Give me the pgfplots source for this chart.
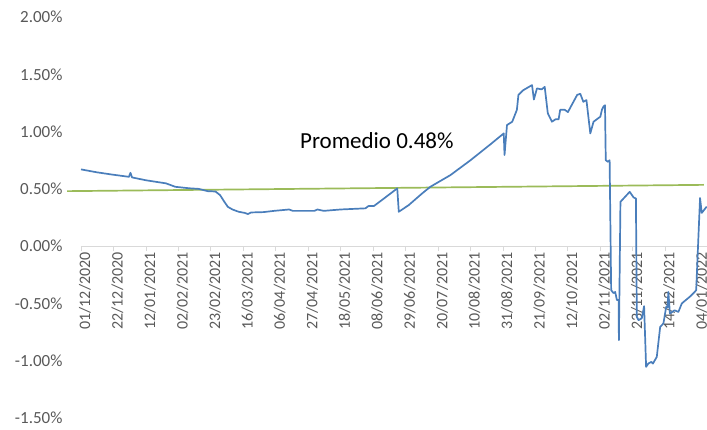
\documentclass[border=0pt]{standalone}
\usepackage{fontspec}
\setmainfont{Carlito}
\usepackage{pgfplots}
\pgfplotsset{compat=1.18}
\definecolor{xlblue}{HTML}{4A7EBB}
\definecolor{xlgreen}{HTML}{9BBB59}
\definecolor{txtgray}{HTML}{595959}
\definecolor{axgray}{HTML}{D9D9D9}
\begin{document}
\begin{tikzpicture}
\path[use as bounding box] (-81pt,-11pt) rectangle (626pt,418pt);
\begin{axis}[
  at={(0pt,0pt)}, anchor=south west,
  scale only axis, width=626pt, height=401pt,
  xmin=0, xmax=405, ymin=-1.5, ymax=2,
  axis x line*=middle, axis y line*=left,
  y axis line style={draw=none},
  x axis line style={draw=axgray, line width=0.8pt},
  hide obscured x ticks=false,
  xtick={0,21,...,399},
  xticklabels={01/12/2020,22/12/2020,12/01/2021,02/02/2021,23/02/2021,16/03/2021,06/04/2021,27/04/2021,18/05/2021,08/06/2021,29/06/2021,20/07/2021,10/08/2021,31/08/2021,21/09/2021,12/10/2021,02/11/2021,23/11/2021,14/12/2021,04/01/2022},
  xticklabel style={rotate=90, anchor=east, font=\fontsize{16}{18}\selectfont, text=txtgray, inner sep=1pt, yshift=-4pt},
  xtick style={draw=axgray, line width=0.8pt},
  tick align=outside, major tick length=5pt,
  ytick={-1.5,-1,-0.5,0,0.5,1,1.5,2},
  yticklabels={-1.50\%,-1.00\%,-0.50\%,0.00\%,0.50\%,1.00\%,1.50\%,2.00\%},
  yticklabel style={font=\fontsize{17}{18}\selectfont, text=txtgray, xshift=-10pt},
  ytick style={draw=none},
  clip=false,
]
\addplot[xlgreen, line width=1.7pt] coordinates {(-9,0.48) (403,0.535)};
\addplot[xlblue, line width=1.7pt, line join=round] coordinates {
(0,0.67) (10,0.645) (20,0.625) (31,0.605) (32,0.64) (33,0.60) (42,0.575) (55,0.548)
(61,0.518) (70,0.505) (76,0.50) (82,0.48) (87,0.477) (90,0.445) (92.6,0.39) (95,0.343)
(98,0.32) (102,0.30) (106,0.29) (108,0.28) (110,0.294) (118,0.297) (125,0.308)
(134.6,0.32) (137,0.308) (151,0.308) (153,0.32) (157,0.308) (168,0.32) (184,0.33)
(186,0.35) (189.5,0.35) (196,0.416) (204.6,0.504) (205.6,0.30) (212,0.358) (220.7,0.46)
(226,0.518) (239,0.62) (252,0.75) (265,0.89) (273.5,0.984) (274,0.795) (275.6,1.057)
(279,1.086) (282,1.19) (283,1.32) (286,1.36) (291.8,1.406) (293,1.28) (295,1.377)
(298,1.368) (300,1.39) (302,1.16) (304.7,1.086) (307,1.107) (309,1.107) (310,1.19)
(313,1.19) (315,1.17) (318,1.245) (321,1.32) (323,1.33) (325,1.26) (327,1.275)
(329.5,0.984) (331.6,1.086) (336,1.13) (337,1.19) (338,1.217) (339,1.23) (339.5,0.75)
(341,0.736) (342,0.75) (343,-0.384) (344.5,-0.41) (345.6,-0.40) (346.7,-0.47)
(347.8,-0.47) (348,-0.82) (349,0.387) (351,0.416) (355,0.474) (357.5,0.425) (359,0.416)
(359.6,-0.617) (360.7,-0.646) (362.8,-0.63) (364.3,-0.524) (365.6,-1.054) (367,-1.025)
(369,-1.01) (370,-1.025) (372.5,-0.967) (374.7,-0.705) (376.8,-0.675) (378.6,-0.53)
(379.4,-0.535) (380,-0.40) (381,-0.588) (384,-0.56) (386.5,-0.574) (388.7,-0.50)
(394,-0.44) (397,-0.40) (398,-0.384) (400.5,0.42) (401.6,0.29) (404.8,0.345)
};
\node[anchor=base, font=\fontsize{23}{26}\selectfont, text=black, inner sep=0pt] at (axis cs:191.4,0.853) {Promedio 0.48\%};
\end{axis}
\end{tikzpicture}
\end{document}
